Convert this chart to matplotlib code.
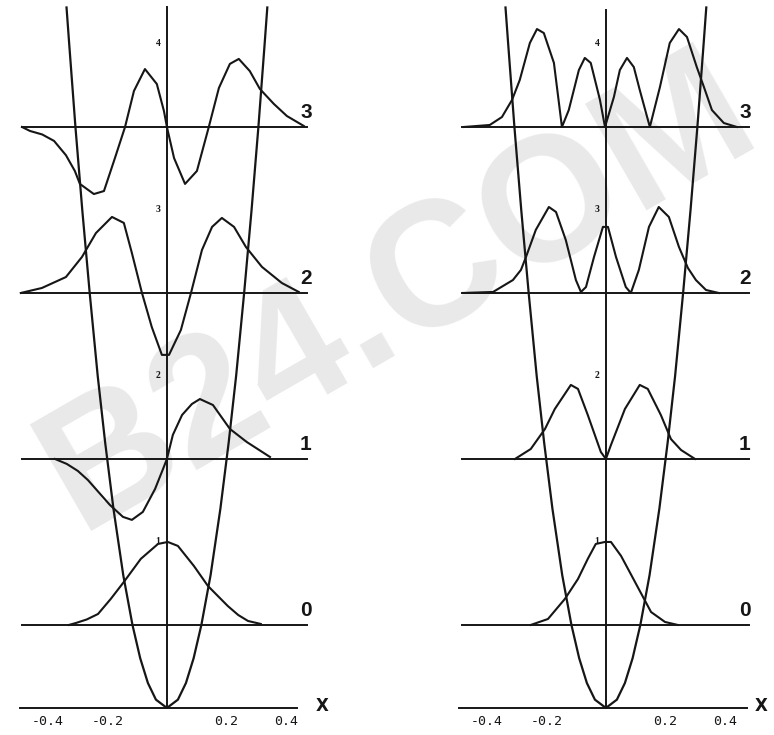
import matplotlib
matplotlib.use("Agg")
import matplotlib.pyplot as plt

# energy levels (units of hbar*omega) and their labels
levels = [0, 1, 2, 3]
energies = [0.5, 1.5, 2.5, 3.5]
ytick_vals = [1, 2, 3, 4]
xtick_vals = [-0.4, -0.2, 0.2, 0.4]
xtick_labels = ["-0.4", "-0.2", "0.2", "0.4"]

# potential well V(x)
pot_x = [-0.338, -0.329, -0.308, -0.285, -0.260, -0.233, -0.208, -0.180, -0.147,
         -0.116, -0.090, -0.064, -0.037, 0.0, 0.037, 0.064, 0.090, 0.116, 0.147,
         0.180, 0.208, 0.233, 0.260, 0.285, 0.308, 0.329, 0.338]
pot_y = [4.22, 4.0, 3.5, 3.0, 2.5, 2.0, 1.6, 1.2, 0.8, 0.5, 0.3, 0.15, 0.05, 0.0,
         0.05, 0.15, 0.3, 0.5, 0.8, 1.2, 1.6, 2.0, 2.5, 3.0, 3.5, 4.0, 4.22]

# left panel: wavefunctions psi_n (offset from level)
psi_x0 = [-0.330, -0.306, -0.270, -0.232, -0.189, -0.145, -0.088, -0.030, 0.003,
          0.037, 0.091, 0.138, 0.205, 0.240, 0.273, 0.316]
psi_y0 = [0.0, 0.012, 0.033, 0.066, 0.157, 0.259, 0.398, 0.488, 0.500, 0.476,
          0.355, 0.235, 0.114, 0.060, 0.024, 0.006]
psi_x1 = [-0.377, -0.337, -0.300, -0.266, -0.230, -0.192, -0.148, -0.118, -0.081,
          -0.040, -0.013, 0.0, 0.020, 0.051, 0.084, 0.111, 0.155, 0.212, 0.269,
          0.347]
psi_y1 = [0.0, -0.030, -0.072, -0.127, -0.200, -0.277, -0.349, -0.367, -0.319,
          -0.181, -0.060, 0.0, 0.145, 0.265, 0.331, 0.361, 0.325, 0.181, 0.102,
          0.012]
psi_x2 = [-0.492, -0.421, -0.340, -0.286, -0.239, -0.185, -0.145, -0.118, -0.084,
          -0.051, -0.017, 0.007, 0.047, 0.081, 0.118, 0.152, 0.185, 0.226, 0.266,
          0.320, 0.387, 0.444]
psi_y2 = [0.0, 0.030, 0.096, 0.217, 0.361, 0.458, 0.422, 0.241, 0.0, -0.205,
          -0.373, -0.373, -0.223, 0.0, 0.259, 0.398, 0.452, 0.398, 0.277, 0.157,
          0.060, 0.006]
psi_x3 = [-0.488, -0.461, -0.420, -0.380, -0.340, -0.310, -0.293, -0.246, -0.212,
          -0.175, -0.141, -0.111, -0.074, -0.034, -0.010, 0.0, 0.024, 0.061, 0.101,
          0.141, 0.175, 0.212, 0.242, 0.279, 0.313, 0.360, 0.404, 0.461]
psi_y3 = [0.0, -0.024, -0.045, -0.084, -0.170, -0.265, -0.343, -0.404, -0.386,
          -0.187, 0.0, 0.217, 0.349, 0.259, 0.096, 0.0, -0.187, -0.343, -0.265,
          0.0, 0.235, 0.380, 0.410, 0.337, 0.229, 0.139, 0.066, 0.006]

# right panel: probability densities |psi_n|^2 (offset from level)
prob_x0 = [-0.253, -0.195, -0.138, -0.094, -0.061, -0.034, -0.003, 0.017, 0.051,
           0.098, 0.152, 0.199, 0.242]
prob_y0 = [0.0, 0.036, 0.157, 0.277, 0.398, 0.488, 0.500, 0.500, 0.416, 0.259,
           0.078, 0.018, 0.0]
prob_x1 = [-0.306, -0.253, -0.205, -0.172, -0.118, -0.094, -0.061, -0.017, 0.0,
           0.017, 0.064, 0.114, 0.141, 0.185, 0.219, 0.253, 0.300]
prob_y1 = [0.0, 0.060, 0.181, 0.301, 0.446, 0.422, 0.265, 0.042, 0.0, 0.084,
           0.301, 0.446, 0.422, 0.265, 0.120, 0.054, 0.0]
prob_x2 = [-0.481, -0.380, -0.313, -0.286, -0.269, -0.236, -0.192, -0.168, -0.135,
           -0.101, -0.084, -0.067, -0.040, -0.010, 0.007, 0.034, 0.067, 0.084,
           0.111, 0.145, 0.178, 0.212, 0.246, 0.276, 0.303, 0.337, 0.380]
prob_y2 = [0.0, 0.006, 0.078, 0.139, 0.217, 0.380, 0.518, 0.488, 0.319, 0.078,
           0.006, 0.036, 0.217, 0.398, 0.398, 0.217, 0.036, 0.0, 0.139, 0.398,
           0.518, 0.458, 0.277, 0.151, 0.078, 0.018, 0.0]
prob_x3 = [-0.478, -0.391, -0.350, -0.316, -0.290, -0.256, -0.232, -0.209, -0.175,
           -0.148, -0.125, -0.091, -0.071, -0.051, -0.020, -0.003, 0.027, 0.047,
           0.071, 0.094, 0.114, 0.148, 0.182, 0.215, 0.246, 0.273, 0.306, 0.330,
           0.357, 0.397, 0.441]
prob_y3 = [0.0, 0.012, 0.060, 0.163, 0.283, 0.506, 0.590, 0.566, 0.386, 0.0,
           0.102, 0.343, 0.416, 0.386, 0.163, 0.0, 0.181, 0.343, 0.416, 0.361,
           0.223, 0.0, 0.241, 0.506, 0.590, 0.542, 0.361, 0.241, 0.102, 0.024, 0.0]

left_curves = [(psi_x0, psi_y0), (psi_x1, psi_y1), (psi_x2, psi_y2), (psi_x3, psi_y3)]
right_curves = [(prob_x0, prob_y0), (prob_x1, prob_y1), (prob_x2, prob_y2), (prob_x3, prob_y3)]

INK = "#161616"

fig = plt.figure(figsize=(7.74, 7.35), dpi=100)

# faint watermark across the scan, kept behind everything
fig.text(0.515, 0.60, "B24.COM", fontsize=128, fontweight="bold",
         family="Liberation Sans", color="#e9e9e9", rotation=30,
         ha="center", va="center", zorder=-1)


def draw_panel(ax, curves, level_span, axis_span, top):
    ax.set_ylim(-0.163, 4.265)
    ax.axis("off")
    ax.patch.set_alpha(0)
    # x axis and vertical axis
    ax.plot(axis_span, [0, 0], color=INK, lw=1.4)
    ax.plot([0, 0], [0, top], color=INK, lw=1.4)
    # potential
    ax.plot(pot_x, pot_y, color=INK, lw=1.6)
    for n, e, (cx, cy) in zip(levels, energies, curves):
        ax.plot(level_span, [e, e], color=INK, lw=1.4)
        ax.plot(cx, [e + v for v in cy], color=INK, lw=1.5)
        ax.text(0.468, e + 0.09, str(n), fontsize=15, fontweight="bold",
                family="Liberation Sans", color=INK, ha="center", va="center")
    for v in ytick_vals:
        ax.text(-0.03, v, str(v), fontsize=7, fontweight="bold",
                family="Liberation Serif", color=INK, ha="center", va="center")
    for v, lab in zip(xtick_vals, xtick_labels):
        ax.text(v, -0.084, lab, fontsize=9.5, family="DejaVu Sans Mono",
                color=INK, ha="center", va="center")
    ax.text(0.523, 0.01, "X", fontsize=12, fontweight="bold",
            family="DejaVu Sans", color=INK, ha="center", va="center")


ax1 = fig.add_axes([0, 0, 0.5, 1])
ax1.set_xlim(-0.562, 0.741)
draw_panel(ax1, left_curves, [-0.488, 0.471], [-0.495, 0.438], 4.22)

ax2 = fig.add_axes([0.5, 0, 0.5, 1])
ax2.set_xlim(-0.737, 0.566)
draw_panel(ax2, right_curves, [-0.485, 0.481], [-0.495, 0.475], 4.205)

fig.savefig("out.png", dpi=100)
